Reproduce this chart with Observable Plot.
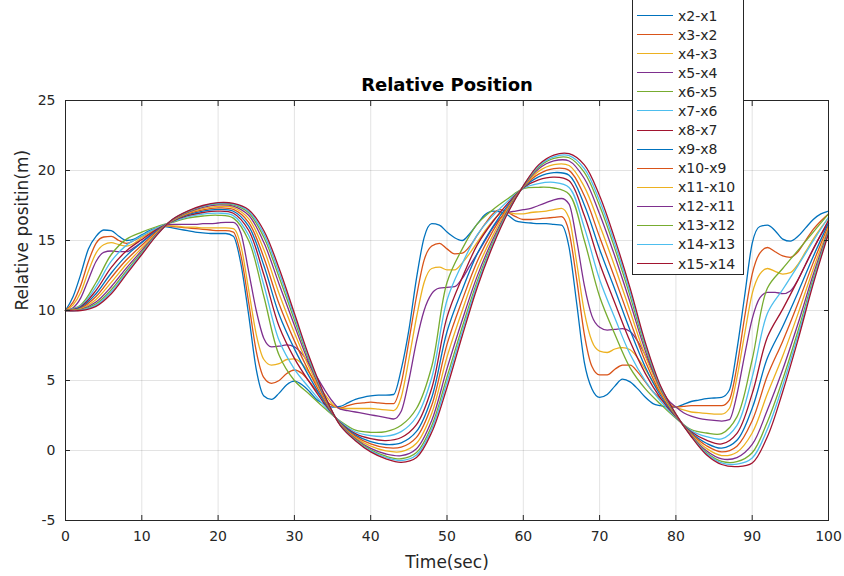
<!DOCTYPE html>
<html>
<head>
<meta charset="utf-8">
<script src="https://cdn.jsdelivr.net/npm/d3@7"></script>
<script src="https://cdn.jsdelivr.net/npm/@observablehq/plot@0.6"></script>
<style>
  html, body { margin: 0; padding: 0; background: #fff; }
  #wrap { position: relative; width: 844px; height: 576px; overflow: hidden; font-family: "DejaVu Sans", sans-serif; }
  #legend { position: absolute; left: 632px; top: -4px; width: 112px; height: 279px; border: 1px solid #262626; background: #fff; box-sizing: border-box; padding-top: 9px; }
  .item { height: 19.08px; display: flex; align-items: center; font-size: 14px; color: #262626; }
  .swatch { width: 36px; height: 0; border-top: 1.5px solid; margin-left: 4px; margin-right: 5px; }
</style>
</head>
<body>
<div id="wrap"></div>
<script>
const title = "Relative Position";
const xLabel = "Time(sec)";
const yLabel = "Relative positin(m)";
const xTicks = [0, 10, 20, 30, 40, 50, 60, 70, 80, 90, 100];
const yTicks = [-5, 0, 5, 10, 15, 20, 25];
const seriesNames = ["x2-x1","x3-x2","x4-x3","x5-x4","x6-x5","x7-x6","x8-x7","x9-x8","x10-x9","x11-x10","x12-x11","x13-x12","x14-x13","x15-x14"];
const seriesColors = ["#0072BD","#D95319","#EDB120","#7E2F8E","#77AC30","#4DBEEE","#A2142F","#0072BD","#D95319","#EDB120","#7E2F8E","#77AC30","#4DBEEE","#A2142F"];

// time grids (sec): 1 s for the first four gaps, 2 s for the smoother ones
const timeFine = d3.range(0, 101, 1);
const timeCoarse = d3.range(0, 101, 2);

const x2_x1 = [10,11.0,12.6,14.4,15.3,15.75,15.7,15.3,15.0,15.1,
  15.4,15.7,15.9,16.0,15.9,15.8,15.7,15.6,15.55,15.5,
  15.5,15.5,15.3,13.3,9.7,5.8,3.9,3.65,4.1,4.7,
  4.95,4.7,4.2,3.6,3.3,3.1,3.15,3.4,3.65,3.8,
  3.9,3.95,3.95,4.0,5.8,8.6,12.3,15.2,16.2,16.1,
  15.6,15.2,15.0,15.5,16.2,16.85,17.1,17.05,16.8,16.4,
  16.3,16.25,16.2,16.2,16.15,16.1,14.5,10.5,6.3,4.4,
  3.8,4.0,4.6,5.1,4.9,4.4,3.8,3.35,3.2,3.1,
  3.1,3.3,3.5,3.6,3.7,3.75,3.8,4.3,7.2,11.0,
  14.8,16.0,16.1,15.7,15.1,14.95,15.3,15.9,16.5,16.9,
  17.1];
const x3_x2 = [10,10.6,11.8,13.5,14.8,15.25,15.3,15.0,14.8,15.0,
  15.3,15.6,15.9,16.05,16.0,15.95,15.9,15.85,15.8,15.75,
  15.7,15.7,15.6,13.9,10.6,7.1,5.2,4.8,5.0,5.5,
  5.75,5.5,4.9,4.2,3.6,3.2,3.05,3.2,3.35,3.4,
  3.45,3.4,3.35,3.35,4.8,7.8,11.0,13.6,14.6,14.8,
  14.4,14.05,14.1,14.6,15.4,16.2,16.9,17.2,17.0,16.7,
  16.5,16.5,16.55,16.6,16.65,16.7,15.6,12.2,8.3,6.0,
  5.4,5.4,5.8,6.1,6.1,5.6,4.9,4.2,3.7,3.3,
  3.1,3.15,3.2,3.2,3.2,3.2,3.2,3.6,6.0,9.5,
  12.6,14.1,14.5,14.2,13.9,13.8,14.2,15.0,15.8,16.4,
  16.9];
const x4_x3 = [10,10.4,11.3,12.8,14.1,14.7,14.85,14.7,14.6,14.8,
  15.2,15.5,15.85,16.05,16.05,16.0,15.95,15.95,15.9,15.9,
  15.9,15.9,15.85,14.6,11.5,8.3,6.5,6.1,6.2,6.5,
  6.55,6.2,5.5,4.7,4.0,3.3,3.0,3.0,3.0,3.0,
  3.0,2.95,2.9,2.85,3.8,6.5,9.5,12.0,13.0,13.1,
  12.9,12.9,13.4,14.1,14.9,15.7,16.4,16.9,17.0,16.9,
  16.9,17.0,17.05,17.1,17.2,17.3,16.6,13.4,9.9,7.8,
  7.1,7.0,7.25,7.35,7.2,6.6,5.8,4.9,4.1,3.5,
  3.1,2.9,2.75,2.7,2.65,2.6,2.6,3.0,5.2,8.3,
  11.2,12.6,13.0,12.8,12.6,12.7,13.3,14.2,15.1,15.9,
  16.6];
const x5_x4 = [10,10.2,10.9,12.2,13.5,14.15,14.25,14.2,14.2,14.5,
  14.9,15.35,15.8,16.1,16.15,16.15,16.15,16.15,16.2,16.2,
  16.25,16.3,16.3,15.5,12.8,10.0,8.0,7.4,7.45,7.55,
  7.4,6.9,6.1,5.2,4.3,3.5,2.95,2.85,2.75,2.65,
  2.55,2.45,2.35,2.25,2.8,5.0,7.8,10.0,11.2,11.6,
  11.65,11.7,12.3,13.2,14.1,15.0,15.9,16.6,17.0,17.1,
  17.2,17.3,17.5,17.7,17.9,18.0,17.6,15.0,11.8,9.6,
  8.8,8.6,8.65,8.7,8.5,7.8,6.8,5.6,4.5,3.6,
  3.1,2.7,2.45,2.3,2.2,2.15,2.1,2.2,4.0,6.8,
  9.4,10.9,11.3,11.3,11.2,11.4,12.2,13.3,14.4,15.4,
  16.2];
const x6_x5 = [10.0,10.4,12.0,14.0,15.1,15.6,16.0,16.3,16.6,16.75,
  16.8,16.6,15.0,11.0,6.8,5.0,4.0,3.0,2.1,1.45,
  1.3,1.35,1.8,3.0,6.0,12.0,14.4,16.2,17.2,18.0,
  18.7,18.8,18.75,18.3,15.0,11.0,8.3,5.9,4.4,3.3,
  2.3,1.5,1.25,1.2,2.4,6.5,11.6,13.0,14.3,15.6,
  16.9];
const x7_x6 = [10.0,10.33,11.71,13.52,14.67,15.33,15.9,16.33,16.69,16.88,
  16.95,16.78,15.37,11.8,7.85,5.82,4.44,3.15,2.05,1.32,
  1.06,1.02,1.35,2.41,5.2,10.73,13.35,15.44,16.76,17.83,
  18.73,19.07,19.15,18.79,15.92,12.22,9.46,6.87,4.96,3.52,
  2.35,1.42,0.99,0.83,1.8,5.24,9.8,11.5,13.21,14.97,
  16.66];
const x8_x7 = [10.0,10.27,11.44,13.08,14.27,15.07,15.8,16.37,16.77,17.0,
  17.1,16.95,15.73,12.55,8.85,6.58,4.86,3.3,2.0,1.2,
  0.84,0.71,0.93,1.85,4.45,9.53,12.35,14.72,16.34,17.67,
  18.77,19.33,19.53,19.26,16.78,13.38,10.54,7.78,5.49,3.73,
  2.4,1.34,0.74,0.47,1.23,4.06,8.1,10.1,12.19,14.38,
  16.44];
const x9_x8 = [10.0,10.21,11.2,12.68,13.92,14.85,15.72,16.39,16.84,17.1,
  17.22,17.09,16.03,13.21,9.71,7.26,5.22,3.42,1.96,1.1,
  0.64,0.43,0.55,1.36,3.79,8.48,11.49,14.09,15.98,17.53,
  18.79,19.55,19.85,19.66,17.54,14.38,11.5,8.58,5.95,3.91,
  2.44,1.27,0.52,0.17,0.73,3.02,6.62,8.86,11.29,13.86,
  16.24];
const x10_x9 = [10.0,10.16,11.0,12.35,13.62,14.66,15.65,16.42,16.9,17.19,
  17.33,17.22,16.3,13.77,10.46,7.83,5.53,3.53,1.92,1.01,
  0.47,0.2,0.24,0.94,3.23,7.58,10.74,13.55,15.67,17.41,
  18.82,19.74,20.14,20.01,18.19,15.25,12.31,9.26,6.35,4.07,
  2.48,1.21,0.34,-0.1,0.31,2.13,5.35,7.81,10.52,13.42,
  16.07];
const x11_x10 = [10.0,10.12,10.79,12.01,13.32,14.46,15.57,16.44,16.96,17.28,
  17.44,17.35,16.56,14.34,11.2,8.41,5.85,3.64,1.89,0.92,
  0.31,-0.03,-0.08,0.52,2.66,6.68,10.0,13.01,15.35,17.29,
  18.84,19.94,20.42,20.36,18.83,16.11,13.13,9.95,6.74,4.22,
  2.51,1.15,0.15,-0.36,-0.12,1.25,4.07,6.75,9.76,12.97,
  15.91];
const x12_x11 = [10.0,10.07,10.61,11.7,13.05,14.29,15.51,16.46,17.01,17.37,
  17.54,17.46,16.8,14.85,11.88,8.94,6.13,3.74,1.85,0.84,
  0.15,-0.25,-0.37,0.13,2.15,5.85,9.32,12.51,15.07,17.18,
  18.86,20.11,20.68,20.68,19.43,16.9,13.88,10.57,7.11,4.37,
  2.55,1.09,-0.02,-0.6,-0.51,0.43,2.91,5.78,9.05,12.57,
  15.75];
const x13_x12 = [10.0,10.04,10.47,11.48,12.85,14.16,15.46,16.48,17.05,17.43,
  17.61,17.55,16.98,15.23,12.38,9.32,6.34,3.81,1.83,0.78,
  0.04,-0.41,-0.59,-0.15,1.77,5.25,8.82,12.15,14.86,17.1,
  18.88,20.24,20.87,20.91,19.86,17.48,14.42,11.03,7.37,4.47,
  2.57,1.05,-0.15,-0.78,-0.8,-0.16,2.06,5.08,8.54,12.27,
  15.64];
const x14_x13 = [10.0,10.02,10.38,11.34,12.72,14.08,15.43,16.49,17.08,17.46,
  17.66,17.6,17.09,15.47,12.69,9.56,6.47,3.86,1.82,0.74,
  -0.03,-0.5,-0.72,-0.33,1.54,4.88,8.51,11.93,14.73,17.05,
  18.89,20.32,20.98,21.06,20.13,17.84,14.76,11.32,7.54,4.54,
  2.59,1.03,-0.22,-0.89,-0.97,-0.53,1.53,4.64,8.22,12.09,
  15.57];
const x15_x14 = [10.0,10.0,10.3,11.2,12.6,14.0,15.4,16.5,17.1,17.5,
  17.7,17.65,17.2,15.7,13.0,9.8,6.6,3.9,1.8,0.7,
  -0.1,-0.6,-0.85,-0.5,1.3,4.5,8.2,11.7,14.6,17.0,
  18.9,20.4,21.1,21.2,20.4,18.2,15.1,11.6,7.7,4.6,
  2.6,1.0,-0.3,-1.0,-1.15,-0.9,1.0,4.2,7.9,11.9,
  15.5];

const fineSeries = [x2_x1, x3_x2, x4_x3, x5_x4];
const coarseSeries = [x6_x5, x7_x6, x8_x7, x9_x8, x10_x9, x11_x10, x12_x11, x13_x12, x14_x13, x15_x14];

const fineRows = fineSeries.flatMap((vals, i) => vals.map((v, j) => ({t: timeFine[j], v, name: seriesNames[i]})));
const coarseRows = coarseSeries.flatMap((vals, i) => vals.map((v, j) => ({t: timeCoarse[j], v, name: seriesNames[i + 4]})));

const chart = Plot.plot({
  width: 844,
  height: 576,
  marginLeft: 65,
  marginRight: 16,
  marginTop: 100,
  marginBottom: 56,
  style: {fontFamily: "DejaVu Sans", fontSize: "14px", color: "#262626", background: "#fff"},
  x: {domain: [0, 100]},
  y: {domain: [-5, 25]},
  color: {domain: seriesNames, range: seriesColors},
  marks: [
    Plot.gridX(xTicks, {stroke: "#262626", strokeOpacity: 0.13}),
    Plot.gridY(yTicks, {stroke: "#262626", strokeOpacity: 0.13}),
    Plot.line(fineRows, {x: "t", y: "v", z: "name", stroke: "name", strokeWidth: 1.3, curve: "monotone-x"}),
    Plot.line(coarseRows, {x: "t", y: "v", z: "name", stroke: "name", strokeWidth: 1.3, curve: "catmull-rom"}),
    Plot.frame({stroke: "#262626"}),
    Plot.axisX(xTicks, {anchor: "bottom", tickSize: -5, tickPadding: 16, tickFormat: d => String(d), label: null}),
    Plot.axisX(xTicks, {anchor: "top", tickSize: -5, tickFormat: () => "", label: null}),
    Plot.axisY(yTicks, {anchor: "left", tickSize: -5, tickPadding: 15, tickFormat: d => String(d), label: null}),
    Plot.axisY(yTicks, {anchor: "right", tickSize: -5, tickFormat: () => "", label: null}),
    Plot.text([title], {frameAnchor: "top", dy: -15, lineAnchor: "middle", text: d => d, fontWeight: "bold", fontSize: 18, fill: "#000"}),
    Plot.text([xLabel], {frameAnchor: "bottom", dy: 42, lineAnchor: "middle", text: d => d, fontSize: 17, fill: "#262626"}),
    Plot.text([yLabel], {frameAnchor: "left", dx: -43, rotate: -90, text: d => d, fontSize: 17, fill: "#262626"})
  ]
});

const wrap = document.getElementById("wrap");
wrap.appendChild(chart);

const legend = document.createElement("div");
legend.id = "legend";
seriesNames.forEach((name, i) => {
  const item = document.createElement("div");
  item.className = "item";
  const sw = document.createElement("div");
  sw.className = "swatch";
  sw.style.borderTopColor = seriesColors[i];
  const label = document.createElement("span");
  label.textContent = name;
  item.appendChild(sw);
  item.appendChild(label);
  legend.appendChild(item);
});
wrap.appendChild(legend);
</script>
</body>
</html>
